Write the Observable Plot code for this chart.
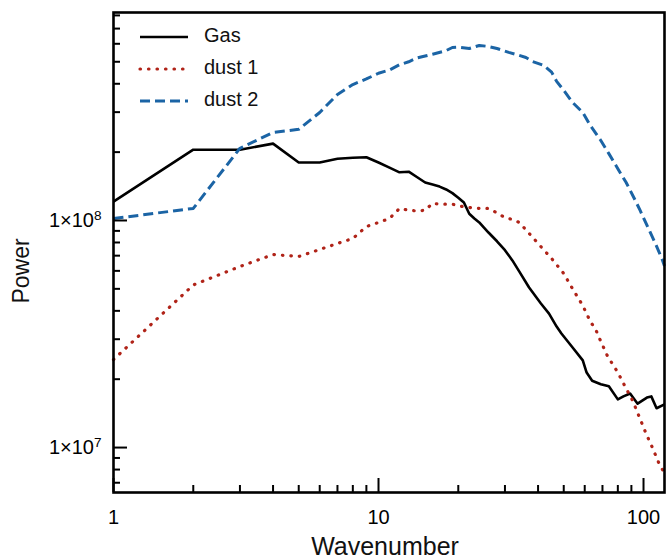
<!DOCTYPE html>
<html>
<head>
<meta charset="utf-8">
<script src="https://cdn.jsdelivr.net/npm/d3@7"></script>
<script src="https://cdn.jsdelivr.net/npm/@observablehq/plot@0.6"></script>
<style>
  body { margin: 0; background: #fff; }
  svg { display: block; }
</style>
</head>
<body>
<div id="chart"></div>
<script>
// Power spectra of gas and the two dust components
const gasK = [1, 2, 3, 4, 5, 6, 7, 8, 9, 10, 11, 12, 13, 14, 15, 16, 17, 18, 19, 20,
  21, 22, 23, 24, 25, 26, 28, 30, 32, 34, 37, 41, 44, 47, 49, 54, 59, 61, 64, 69,
  74, 80, 84, 89, 95, 103, 107, 112, 120];
const gasP = [1.21e8, 2.05e8, 2.05e8, 2.18e8, 1.80e8, 1.80e8, 1.87e8, 1.89e8, 1.90e8, 1.80e8,
  1.71e8, 1.63e8, 1.64e8, 1.55e8, 1.47e8, 1.44e8, 1.41e8, 1.37e8, 1.32e8, 1.26e8,
  1.20e8, 1.07e8, 1.02e8, 9.8e7, 9.3e7, 8.85e7, 8.1e7, 7.4e7, 6.67e7, 5.95e7,
  5.07e7, 4.31e7, 3.89e7, 3.41e7, 3.18e7, 2.76e7, 2.42e7, 2.14e7, 1.97e7, 1.90e7,
  1.86e7, 1.63e7, 1.68e7, 1.73e7, 1.56e7, 1.66e7, 1.68e7, 1.49e7, 1.55e7];

const dust1K = [1, 2, 3, 4, 5, 6, 7, 8, 9, 10, 11, 12, 13, 14, 15, 16, 17, 18, 19, 20,
  22, 24, 26, 28, 30, 32, 34, 36, 40, 45, 50, 54, 59, 63, 66, 68, 73, 80, 86, 91,
  96, 102, 108, 114, 120];
const dust1P = [2.44e7, 5.2e7, 6.27e7, 7.08e7, 6.94e7, 7.45e7, 7.92e7, 8.33e7, 9.4e7, 9.8e7,
  1.02e8, 1.13e8, 1.11e8, 1.10e8, 1.11e8, 1.19e8, 1.18e8, 1.18e8, 1.18e8, 1.16e8,
  1.14e8, 1.13e8, 1.13e8, 1.08e8, 1.03e8, 1.01e8, 9.8e7, 9.1e7, 7.92e7, 6.8e7,
  5.84e7, 5.0e7, 4.22e7, 3.59e7, 3.31e7, 3.05e7, 2.54e7, 2.14e7, 1.82e7, 1.61e7,
  1.38e7, 1.16e7, 1.0e7, 8.6e6, 7.7e6];

const dust2K = [1, 2, 3, 4, 5, 6, 7, 8, 9, 10, 11, 12, 13, 14, 15, 16, 18, 19, 20, 22,
  24, 26, 28, 31, 33, 36, 38, 42, 45, 47, 50, 54, 59, 63, 69, 74, 80, 86, 92, 97,
  104, 111, 118, 120];
const dust2P = [1.02e8, 1.13e8, 2.08e8, 2.44e8, 2.52e8, 2.99e8, 3.59e8, 3.97e8, 4.2e8, 4.45e8,
  4.6e8, 4.85e8, 5.0e8, 5.2e8, 5.3e8, 5.4e8, 5.6e8, 5.78e8, 5.8e8, 5.72e8,
  5.9e8, 5.84e8, 5.72e8, 5.5e8, 5.39e8, 5.22e8, 5.02e8, 4.82e8, 4.5e8, 4.1e8,
  3.74e8, 3.31e8, 2.99e8, 2.62e8, 2.25e8, 1.97e8, 1.69e8, 1.47e8, 1.26e8, 1.11e8,
  9.3e7, 7.9e7, 6.67e7, 6.3e7];

const seriesNames = ["Gas", "dust 1", "dust 2"];

// Tick positions
const xMajorTicks = [1, 10, 100];
const xMinorTicks = [2, 3, 4, 5, 6, 7, 8, 9, 20, 30, 40, 50, 60, 70, 80, 90];
const yMajorTicks = [1e7, 1e8];
const yMinorTicks = [7e6, 8e6, 9e6, 2e7, 3e7, 4e7, 5e7, 6e7, 7e7, 8e7, 9e7,
  2e8, 3e8, 4e8, 5e8, 6e8, 7e8, 8e8];

const xLabel = "Wavenumber";
const yLabel = "Power";

const toRows = (K, P) => K.map((k, i) => ({k, p: P[i]}));
const gas = toRows(gasK, gasP);
const dust1 = toRows(dust1K, dust1P);
const dust2 = toRows(dust2K, dust2P);

const styles = [
  {stroke: "#000000", strokeWidth: 2.6, strokeDasharray: null, strokeLinecap: "butt"},
  {stroke: "#b02318", strokeWidth: 3.2, strokeDasharray: "0.5 8", strokeLinecap: "round"},
  {stroke: "#1b64a5", strokeWidth: 3.0, strokeDasharray: "10 5", strokeLinecap: "butt"}
];

const font = "'Liberation Sans', Arial, Helvetica, sans-serif";

const chart = Plot.plot({
  width: 667,
  height: 560,
  marginLeft: 113,
  marginRight: 3,
  marginTop: 12,
  marginBottom: 68,
  style: {fontFamily: font, fontSize: "20px"},
  x: {type: "log", domain: [1, 120]},
  y: {type: "log", domain: [6.34e6, 8.24e8]},
  marks: [
    Plot.line(gas, {x: "k", y: "p", ...styles[0]}),
    Plot.line(dust1, {x: "k", y: "p", ...styles[1]}),
    Plot.line(dust2, {x: "k", y: "p", ...styles[2]}),
    // inward ticks (negative tick size) on the bottom and left edges
    Plot.axisX(xMinorTicks, {tickSize: -7, tickFormat: () => "", label: null, stroke: "#000"}),
    Plot.axisX(xMajorTicks, {tickSize: -14, tickPadding: 31, tickFormat: d => String(d), label: null, stroke: "#000"}),
    Plot.axisY(yMinorTicks, {tickSize: -7, tickFormat: () => "", label: null, stroke: "#000"}),
    Plot.axisY(yMajorTicks, {tickSize: -14, tickPadding: 26, tickFormat: d => "1×10|" + Math.round(Math.log10(d)), label: null, stroke: "#000"}),
    Plot.frame({stroke: "#000", strokeWidth: 2.6})
  ]
});

const svg = d3.select(chart);

// thicker tick strokes
svg.selectAll('[aria-label="x-axis tick"], [aria-label="y-axis tick"]').attr("stroke-width", 2);

// exponent labels: 1×10 with superscript power
svg.selectAll('[aria-label="y-axis tick label"] text').each(function () {
  const t = d3.select(this);
  const parts = t.text().split("|");
  if (parts.length < 2) return;
  t.text(null);
  t.append("tspan").text(parts[0]);
  t.append("tspan").attr("dy", "-0.5em").attr("font-size", "0.68em").text(parts[1]);
});

// axis titles
svg.append("text")
  .attr("x", 385).attr("y", 548)
  .attr("text-anchor", "middle").attr("dominant-baseline", "middle")
  .attr("font-family", font).attr("font-size", 25).attr("fill", "#111")
  .text(xLabel);
svg.append("text")
  .attr("transform", "translate(23,271) rotate(-90)")
  .attr("text-anchor", "middle").attr("dominant-baseline", "middle")
  .attr("font-family", font).attr("font-size", 23).attr("fill", "#111")
  .text(yLabel);

// legend in the upper left corner of the frame
const legend = svg.append("g").attr("font-family", font).attr("font-size", 20).attr("fill", "#111");
seriesNames.forEach((name, i) => {
  const y = 37 + i * 32;
  const s = styles[i];
  legend.append("line")
    .attr("x1", 140).attr("x2", 188).attr("y1", y).attr("y2", y)
    .attr("stroke", s.stroke).attr("stroke-width", s.strokeWidth)
    .attr("stroke-dasharray", s.strokeDasharray).attr("stroke-linecap", s.strokeLinecap);
  legend.append("text")
    .attr("x", 204).attr("y", y).attr("text-anchor", "start").attr("dominant-baseline", "middle")
    .text(name);
});

document.getElementById("chart").append(chart);
</script>
</body>
</html>
